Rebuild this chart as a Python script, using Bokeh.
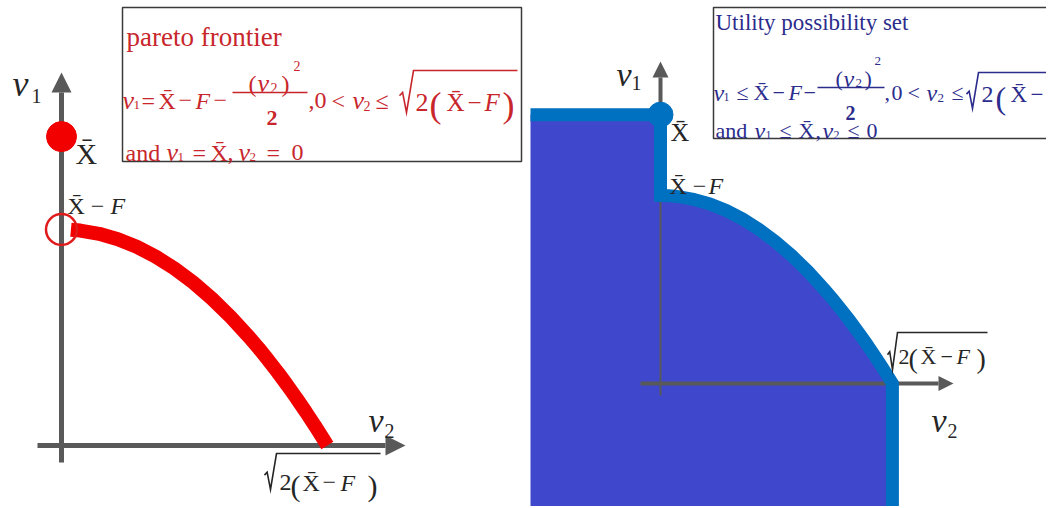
from bokeh.plotting import figure
from bokeh.layouts import row
from bokeh.models import Label, Arrow, NormalHead, BoxAnnotation
from bokeh.embed import file_html
from bokeh.resources import INLINE

# ---------------- data ----------------
xbar = 1.43          # X-bar
F = 0.43             # F
# frontier v1 = Xbar - F - v2^2/2
frontier_v2 = [0.0, 0.05, 0.1, 0.2, 0.3, 0.4, 0.5, 0.6, 0.7, 0.8, 0.9, 1.0,
               1.05, 1.1, 1.15, 1.2, 1.25, 1.3, 1.35, 1.39, 1.414]
frontier_v1 = [1.0, 0.999, 0.995, 0.98, 0.955, 0.92, 0.875, 0.82, 0.755, 0.68, 0.595, 0.5,
               0.449, 0.395, 0.339, 0.28, 0.219, 0.155, 0.089, 0.034, 0.0]

left_title = "pareto frontier"
right_title = "Utility possibility set"
XB = "X\u0304"   # X with bar
sym_v = "v"

# ---------------- style ----------------
FONT = "Liberation Serif"
GRAY = "#595959"
RED = "#F20000"
RED_TXT = "#C8262C"
BLUE_FILL = "#3F48CC"
BLUE_BAND = "#0070C0"
BLUE_TXT = "#2B2C8C"
DARK = "#262626"

H = 506

def add_text(p, cx, cy, pieces, color):
    for px, py, txt, size, style in pieces:
        p.add_layout(Label(x=cx(px), y=cy(py), text=txt, text_font=FONT,
                           text_font_size=f"{size}px", text_font_style=style,
                           text_color=color, text_baseline="alphabetic", text_align="left"))

def add_bars(p, cx, cy, bars, color):
    for x0, x1, y, w in bars:
        r = p.segment([cx(x0)], [cy(y)], [cx(x1)], [cy(y)], line_color=color, line_width=w)
        r.level = "overlay"

def add_radical(p, cx, cy, xl, w, yt, yb, xr, color):
    h = yb - yt
    px = [xl, xl + 0.22 * w, xl + 0.5 * w, xl + w, xr]
    py = [yt + 0.6 * h, yt + 0.52 * h, yb, yt, yt]
    r = p.line([cx(v) for v in px], [cy(v) for v in py], line_color=color, line_width=1.6,
               line_join="miter")
    r.level = "overlay"

# ---------------- left panel ----------------
LW = 530
def lx(px): return (px - 61) / 188.0
def ly(py): return (445 - py) / 216.0

pl = figure(width=LW, height=H, x_range=(lx(0), lx(LW)), y_range=(ly(H), ly(0)),
            output_backend="svg", toolbar_location=None, min_border=0,
            x_axis_location=None, y_axis_location=None)
pl.grid.visible = False
pl.outline_line_color = None

pl.add_layout(Arrow(end=NormalHead(size=20, fill_color=GRAY, line_color=GRAY, line_width=0),
                    x_start=0, y_start=ly(462), x_end=0, y_end=ly(72),
                    line_color=GRAY, line_width=5, level="underlay"))
pl.add_layout(Arrow(end=NormalHead(size=20, fill_color=GRAY, line_color=GRAY, line_width=0),
                    x_start=lx(37), y_start=0, x_end=lx(405), y_end=0,
                    line_color=GRAY, line_width=5, level="underlay"))

pl.line(frontier_v2[1:], frontier_v1[1:], line_color=RED, line_width=14)
pl.scatter([0], [xbar], size=30, marker="circle", fill_color=RED, line_color=RED)
pl.scatter([0], [xbar - F], size=31, marker="circle", fill_color=None, line_color="#E01B1B", line_width=2.5)

pl.add_layout(BoxAnnotation(left=lx(122), right=lx(521), top=ly(7), bottom=ly(161),
                            fill_color="white", fill_alpha=1.0, line_color="#3a3a3a",
                            line_width=1.5, line_alpha=1.0))

left_dark = [
    (12, 83, sym_v, 36, "italic"), (31, 95, "1", 20, "normal"),
    (75, 153, XB, 30, "normal"),
    (67, 205, XB + " \u2212", 24, "normal"), (110, 205, "F", 24, "italic"),
    (368, 420, sym_v, 34, "italic"), (384, 430, "2", 20, "normal"),
    (279, 482, "2", 24, "normal"),
    (290, 485, "(", 30, "normal"), (302, 482, XB, 24, "normal"),
    (322, 482, "\u2212", 24, "normal"), (340, 482, "F", 24, "italic"),
    (367, 485, ")", 30, "normal"),
]
add_text(pl, lx, ly, left_dark, DARK)
add_radical(pl, lx, ly, 264, 12, 453, 489, 380, DARK)

left_red = [
    (126, 36, left_title, 27, "normal"),
    (122, 100, sym_v, 26, "italic"), (133, 104, "1", 13, "normal"),
    (141, 100, "=", 24, "normal"), (158, 100, XB, 24, "normal"),
    (178, 100, "\u2212", 24, "normal"), (195, 100, "F", 24, "italic"),
    (213, 100, "\u2212", 24, "normal"),
    (248, 83, "(", 24, "normal"), (257, 83, sym_v, 26, "italic"), (270, 87, "2", 14, "normal"),
    (281, 83, ")", 24, "normal"), (293, 65, "2", 14, "normal"),
    (266, 117, "2", 22, "bold"),
    (308, 100, ",", 24, "normal"), (314, 100, "0", 24, "normal"),
    (331, 100, "<", 24, "normal"), (352, 100, sym_v, 26, "italic"), (363, 105, "2", 14, "normal"),
    (375, 100, "\u2264", 24, "normal"),
    (415, 102, "2", 26, "normal"),
    (429, 104, "(", 36, "normal"), (446, 102, XB, 25, "normal"),
    (467, 102, "\u2212", 25, "normal"), (484, 102, "F", 25, "italic"),
    (502, 104, ")", 36, "normal"),
    (125, 152, "and", 24, "normal"), (166, 152, sym_v, 26, "italic"), (177, 156, "1", 13, "normal"),
    (192, 152, "=", 24, "normal"), (210, 152, XB, 24, "normal"), (227, 152, ",", 24, "normal"),
    (238, 152, sym_v, 26, "italic"), (249, 156, "2", 13, "normal"),
    (266, 152, "=", 24, "normal"), (291, 152, "0", 24, "normal"),
]
add_text(pl, lx, ly, left_red, RED_TXT)
add_bars(pl, lx, ly, [(232, 307, 92, 1.5)], RED_TXT)
add_radical(pl, lx, ly, 399, 14, 70, 112, 517, RED_TXT)

# ---------------- right panel ----------------
RW = 516
def rx(px): return (px - 660) / 164.0
def ry(py): return (383 - py) / 188.0

pr = figure(width=RW, height=H, x_range=(rx(530), rx(530 + RW)), y_range=(ry(H), ry(0)),
            output_backend="svg", toolbar_location=None, min_border=0,
            x_axis_location=None, y_axis_location=None)
pr.grid.visible = False
pr.outline_line_color = None

far_left = rx(500)
far_bottom = ry(560)
v2max = frontier_v2[-1]
bx = [far_left, 0] + frontier_v2 + [v2max]
by = [xbar, xbar] + frontier_v1 + [far_bottom]
region = pr.patch(bx + [far_left], by + [far_bottom], fill_color=BLUE_FILL, line_color=None)
region.level = "image"

thin = pr.segment([0], [ry(395)], [0], [xbar], line_color=GRAY, line_width=2)
thin.level = "underlay"
pr.add_layout(Arrow(end=NormalHead(size=15, fill_color=GRAY, line_color=GRAY, line_width=0),
                    x_start=rx(640), y_start=0, x_end=rx(953), y_end=0,
                    line_color=GRAY, line_width=4, level="underlay"))
pr.add_layout(Arrow(end=NormalHead(size=16, fill_color=GRAY, line_color=GRAY, line_width=0),
                    x_start=0, y_start=xbar, x_end=0, y_end=ry(61),
                    line_color=GRAY, line_width=4, level="underlay"))

pr.line(bx, by, line_color=BLUE_BAND, line_width=13, line_join="miter")
pr.scatter([0], [xbar], size=25, marker="circle", fill_color=BLUE_BAND, line_color=BLUE_BAND)

pr.add_layout(BoxAnnotation(left=rx(713), right=rx(1080), top=ry(7), bottom=ry(138),
                            fill_color="white", fill_alpha=1.0, line_color="#3a3a3a",
                            line_width=1.5, line_alpha=1.0))

right_dark = [
    (616, 74, sym_v, 34, "italic"), (631, 82, "1", 20, "normal"),
    (670, 132, XB, 26, "normal"),
    (669, 185, XB + " \u2212", 24, "normal"), (708, 185, "F", 24, "italic"),
    (898, 356, "2", 22, "normal"),
    (908, 358, "(", 28, "normal"), (920, 356, XB, 22, "normal"),
    (940, 356, "\u2212", 22, "normal"), (956, 356, "F", 22, "italic"),
    (976, 358, ")", 28, "normal"),
    (931, 420, sym_v, 34, "italic"), (947, 430, "2", 20, "normal"),
]
add_text(pr, rx, ry, right_dark, DARK)
add_radical(pr, rx, ry, 887, 10, 332, 369, 987, DARK)

right_blue = [
    (715, 22, right_title, 23, "normal"),
    (713, 92, sym_v, 24, "italic"), (723, 96, "1", 12, "normal"),
    (736, 92, "\u2264", 22, "normal"), (753, 92, XB, 22, "normal"),
    (772, 92, "\u2212", 22, "normal"), (788, 92, "F", 22, "italic"),
    (803, 92, "\u2212", 22, "normal"),
    (835, 78, "(", 22, "normal"), (843, 78, sym_v, 24, "italic"), (855, 82, "2", 13, "normal"),
    (864, 78, ")", 22, "normal"), (874, 60, "2", 13, "normal"),
    (845, 112, "2", 20, "bold"),
    (884, 92, ",", 22, "normal"), (891, 92, "0", 22, "normal"),
    (907, 92, "<", 22, "normal"), (926, 92, sym_v, 24, "italic"), (937, 97, "2", 13, "normal"),
    (951, 92, "\u2264", 22, "normal"),
    (981, 94, "2", 24, "normal"),
    (995, 97, "(", 32, "normal"), (1010, 94, XB, 23, "normal"),
    (1030, 94, "\u2212", 23, "normal"),
    (715, 130, "and", 22, "normal"), (754, 130, sym_v, 24, "italic"), (765, 134, "1", 12, "normal"),
    (779, 130, "\u2264", 22, "normal"), (798, 130, XB, 22, "normal"), (815, 130, ",", 22, "normal"),
    (822, 130, sym_v, 24, "italic"), (833, 134, "2", 12, "normal"),
    (847, 130, "\u2264", 22, "normal"), (866, 130, "0", 22, "normal"),
]
add_text(pr, rx, ry, right_blue, BLUE_TXT)
add_bars(pr, rx, ry, [(817, 884, 87, 1.5)], BLUE_TXT)
add_radical(pr, rx, ry, 966, 12, 72, 108, 1048, BLUE_TXT)

layout = row(pl, pr)
open("out.html", "w").write(file_html(layout, INLINE))
